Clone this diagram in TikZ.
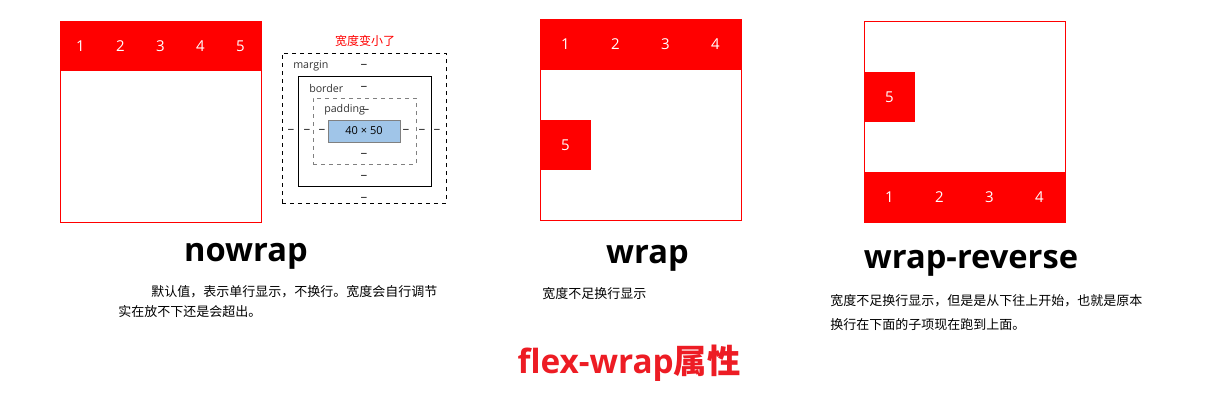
\documentclass[tikz,border=0pt]{standalone}
\usepackage{fontspec}
\setmainfont{Open Sans}
\newfontfamily\cjk{Noto Sans CJK SC}
\definecolor{flexred}{RGB}{255,0,0}
\definecolor{titlered}{RGB}{237,28,36}
\definecolor{contentblue}{RGB}{160,197,232}
\definecolor{padgray}{RGB}{128,128,128}
\tikzset{
  container/.style={draw=flexred, line width=0.75pt},
  item/.style={fill=flexred, text=white, inner sep=0pt, minimum height=37.5pt, font=\fontsize{11.25pt}{13pt}\selectfont},
  itemf/.style={item, minimum width=30pt},
  itemw/.style={item, minimum width=37.5pt},
  heading/.style={anchor=base, inner sep=0pt, font=\fontsize{24.5pt}{28pt}\selectfont\bfseries},
  desc/.style={anchor=base west, inner sep=0pt, font=\fontsize{9.75pt}{12pt}\selectfont\cjk},
  boxlab/.style={inner sep=0pt, font=\fontsize{8pt}{10pt}\selectfont, text=black!80},
  dashlab/.style={inner sep=0pt, font=\fontsize{10pt}{10pt}\selectfont, text=black!80},
}
\begin{document}
\begin{tikzpicture}[x=0.75pt,y=-0.75pt]
\useasboundingbox (0,0) rectangle (1208,404);
% ---------- nowrap ----------
\node[container, inner sep=0pt, minimum width=150.75pt, minimum height=150.75pt] (c1) at (160.5,121.5) {};
\foreach \i/\x in {1/80.5,2/120.5,3/160.5,4/200.5,5/240.5}
  \node[itemf] (a\i) at (\x,46) {\i};
% ---------- box model ----------
\node[draw=black, dashed, line width=0.6pt, inner sep=0pt, minimum width=123pt, minimum height=112.5pt] (margin) at (364,128) {};
\node[draw=black, line width=0.75pt, inner sep=0pt, minimum width=99.75pt, minimum height=82.5pt] (border) at (364.5,131) {};
\node[draw=padgray, dashed, line width=0.6pt, inner sep=0pt, minimum width=77.25pt, minimum height=49.5pt] (padding) at (364.5,131) {};
\node[draw=padgray, fill=contentblue, line width=0.6pt, inner sep=0pt, minimum width=54pt, minimum height=16.5pt, font=\fontsize{8.25pt}{10pt}\selectfont] (content) at (364,131) {40 × 50};
\node[inner sep=0pt, text=flexred, font=\fontsize{9pt}{11pt}\selectfont\cjk] (shrink) at (365,41) {宽度变小了};
\node[boxlab, anchor=west] (lm) at (293,66) {margin};
\node[boxlab, anchor=west] (lb) at (309,88) {border};
\node[boxlab, anchor=west] (lp) at (324,110) {padding};
\node[dashlab] (dmt) at (364,66) {–};
\node[dashlab] (dbt) at (364,88) {–};
\node[dashlab] (dpt) at (366,111) {–};
\node[dashlab] (dml) at (291,131) {–};
\node[dashlab] (dbl) at (307,131) {–};
\node[dashlab] (dpl) at (322,131) {–};
\node[dashlab] (dpr) at (406,131) {–};
\node[dashlab] (dbr) at (422,131) {–};
\node[dashlab] (dmr) at (437,131) {–};
\node[dashlab] (dpb) at (364,155) {–};
\node[dashlab] (dbb) at (364,177) {–};
\node[dashlab] (dmb) at (364,199) {–};
% ---------- wrap ----------
\node[container, inner sep=0pt, minimum width=150.75pt, minimum height=150.75pt] (c2) at (640.5,119.5) {};
\foreach \i/\x in {1/565.5,2/615.5,3/665.5,4/715.5}
  \node[itemw] (b\i) at (\x,44.5) {\i};
\node[itemw] (b5) at (565.5,145) {5};
% ---------- wrap-reverse ----------
\node[container, inner sep=0pt, minimum width=150.75pt, minimum height=150.75pt] (c3) at (964.5,121.5) {};
\node[itemw] (r5) at (889.5,97) {5};
\foreach \i/\x in {1/889.5,2/939.5,3/989.5,4/1039.5}
  \node[itemw] (r\i) at (\x,197) {\i};
% ---------- headings ----------
\node[heading] (h1) at (246,261) {nowrap};
\node[heading] (h2) at (647.5,263) {wrap};
\node[heading] (h3) at (971,268) {wrap-reverse};
% ---------- descriptions ----------
\node[desc] (d1a) at (151,296) {默认值，表示单行显示，不换行。宽度会自行调节};
\node[desc] (d1b) at (118,316) {实在放不下还是会超出。};
\node[desc] (d2) at (542,298) {宽度不足换行显示};
\node[desc] (d3a) at (830,305) {宽度不足换行显示，但是是从下往上开始，也就是原本};
\node[desc] (d3b) at (830,329) {换行在下面的子项现在跑到上面。};
% ---------- title ----------
\node[anchor=base, inner sep=0pt, text=titlered, font=\fontsize{25pt}{28pt}\selectfont\bfseries] (title) at (629,373) {flex-wrap{\cjk\bfseries 属性}};
\end{tikzpicture}
\end{document}
